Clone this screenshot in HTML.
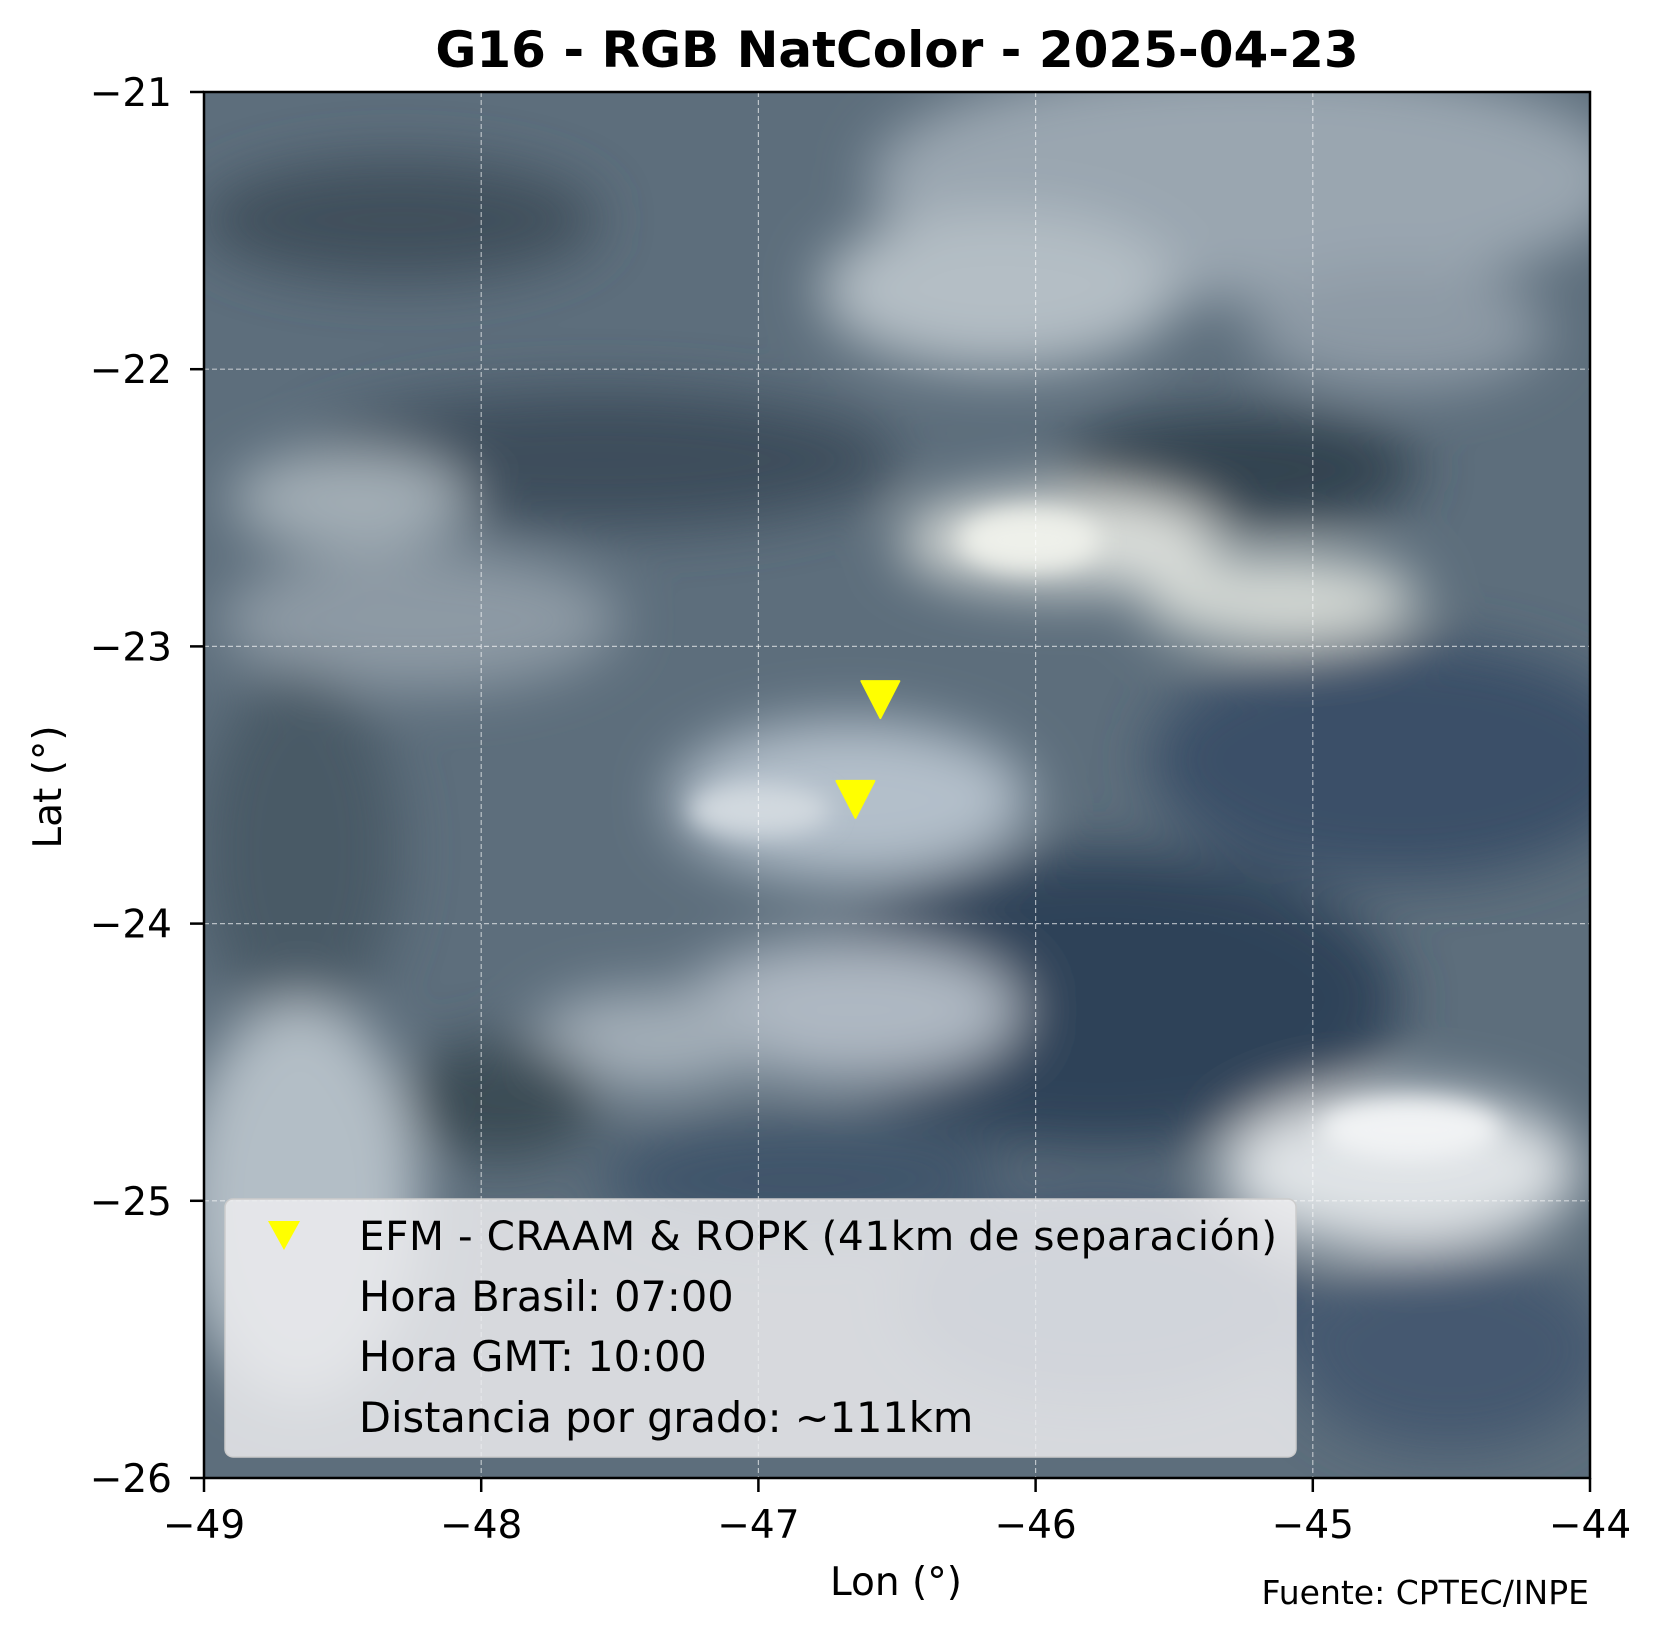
<!DOCTYPE html>
<html><head><meta charset="utf-8"><style>
html,body{margin:0;padding:0;background:#fff;}
svg{display:block;font-family:"DejaVu Sans","Liberation Sans",sans-serif;}
</style></head><body>
<svg id="chart" width="1663" height="1634" viewBox="0 0 1663 1634" xmlns="http://www.w3.org/2000/svg">
<defs>
<filter id="blur" x="-20%" y="-20%" width="140%" height="140%"><feGaussianBlur stdDeviation="28"/></filter>
<filter id="blur2" x="-20%" y="-20%" width="140%" height="140%"><feGaussianBlur stdDeviation="12"/></filter>
<clipPath id="plotclip"><rect x="204" y="92" width="1386" height="1386"/></clipPath>
</defs>
<g id="bg" clip-path="url(#plotclip)">
<rect x="204" y="92" width="1386" height="1386" fill="#5d6e7c"/>
<g filter="url(#blur)">
<ellipse cx="1250" cy="180" rx="380" ry="120" fill="#9aa6b0"/>
<ellipse cx="1000" cy="290" rx="180" ry="80" fill="#b4bec5"/>
<ellipse cx="1400" cy="330" rx="150" ry="60" fill="#8d9aa5"/>
<ellipse cx="400" cy="220" rx="200" ry="60" fill="#3f4f5c"/>
<ellipse cx="600" cy="460" rx="300" ry="70" fill="#3d4e5b"/>
<ellipse cx="1240" cy="470" rx="180" ry="60" fill="#324350"/>
<ellipse cx="1060" cy="540" rx="160" ry="50" fill="#dcdfdb"/>
<ellipse cx="1280" cy="600" rx="140" ry="45" fill="#d6dad6"/>
<ellipse cx="350" cy="500" rx="120" ry="50" fill="#a3aeb6"/>
<ellipse cx="420" cy="620" rx="200" ry="70" fill="#8d9aa4"/>
<ellipse cx="1400" cy="760" rx="250" ry="120" fill="#3a4f68"/>
<ellipse cx="850" cy="800" rx="180" ry="80" fill="#b3bfca"/>
<ellipse cx="300" cy="850" rx="100" ry="180" fill="#4a5a66"/>
<ellipse cx="1100" cy="1000" rx="300" ry="150" fill="#2f4258"/>
<ellipse cx="850" cy="1010" rx="170" ry="70" fill="#aeb8c2"/>
<ellipse cx="650" cy="1040" rx="120" ry="50" fill="#a3aeb8"/>
<ellipse cx="500" cy="1100" rx="100" ry="60" fill="#3a4c55"/>
<ellipse cx="300" cy="1200" rx="120" ry="200" fill="#b3bec6"/>
<ellipse cx="1400" cy="1170" rx="180" ry="80" fill="#dfe3e6"/>
<ellipse cx="1450" cy="1350" rx="160" ry="100" fill="#44596f"/>
<ellipse cx="1100" cy="1300" rx="200" ry="100" fill="#3a506b"/>
<ellipse cx="800" cy="1180" rx="200" ry="60" fill="#40556a"/>
</g>
<g filter="url(#blur2)">
<ellipse cx="1030" cy="540" rx="70" ry="30" fill="#eef0ea"/>
<ellipse cx="1410" cy="1130" rx="90" ry="30" fill="#f1f3f4"/>
<ellipse cx="760" cy="810" rx="70" ry="25" fill="#d2d9df"/>
</g>
</g>
<g id="grid" stroke="#ffffff" stroke-opacity="0.6" stroke-width="1.2" stroke-dasharray="5,3"></g>
<g id="legend">
<rect x="225" y="1199" width="1071" height="258" rx="8" fill="#ececef" fill-opacity="0.85" stroke="#cccccc" stroke-width="1.5"/>
<polygon points="268,1221 300,1221 284,1250" fill="#ffff00"/>
<text x="359" y="1250" font-size="40.5" textLength="918">EFM - CRAAM &amp; ROPK (41km de separación)</text>
<text x="359" y="1311" font-size="41.5">Hora Brasil: 07:00</text>
<text x="359" y="1371" font-size="41.5">Hora GMT: 10:00</text>
<text x="359" y="1432" font-size="41.5">Distancia por grado: ~111km</text>
</g>
<g id="marks"></g>
<rect x="204" y="92" width="1386" height="1386" fill="none" stroke="#000" stroke-width="2.5"/>
<g id="axes"></g>
<text x="897" y="67" font-size="50" font-weight="bold" text-anchor="middle">G16 - RGB NatColor - 2025-04-23</text>
<text x="896" y="1595" font-size="39" text-anchor="middle">Lon (°)</text>
<text transform="translate(61,787) rotate(-90)" font-size="39" text-anchor="middle">Lat (°)</text>
<text x="1589" y="1604" font-size="33" text-anchor="end">Fuente: CPTEC/INPE</text>
</svg>
<script>
const xTicks = [-49, -48, -47, -46, -45, -44];
const yTicks = [-21, -22, -23, -24, -25, -26];
const stationLon = [-46.56, -46.65];
const stationLat = [-23.19, -23.55];
const stationNames = ['CRAAM', 'ROPK'];

const NS = 'http://www.w3.org/2000/svg';
const L = 204, T = 92, W = 1386, H = 1386;
function xs(v){ return L + (v - (-49)) / 5 * W; }
function ys(v){ return T + ((-21) - v) / 5 * H; }
function mk(tag, attrs, parent){ const e = document.createElementNS(NS, tag); for (const k in attrs) e.setAttribute(k, attrs[k]); parent.appendChild(e); return e; }

const grid = document.getElementById('grid');
const axes = document.getElementById('axes');
xTicks.forEach(v => {
  const x = xs(v);
  if (v > -49 && v < -44) {
    const g = mk('line', {x1:x, y1:T, x2:x, y2:T+H}, grid);
    
    
  }
  const t = mk('line', {x1:x, y1:T+H, x2:x, y2:T+H+14, stroke:'#000', 'stroke-width':2.5}, axes);
  
  
  const lb = mk('text', {x:x, y:1538, 'font-size':39, 'text-anchor':'middle'}, axes);
  lb.textContent = '\u2212' + Math.abs(v);
  
  
});
yTicks.forEach(v => {
  const y = ys(v);
  if (v < -21 && v > -26) {
    const g = mk('line', {x1:L, y1:y, x2:L+W, y2:y}, grid);
    
    
  }
  const t = mk('line', {x1:L-14, y1:y, x2:L, y2:y, stroke:'#000', 'stroke-width':2.5}, axes);
  
  
  const lb = mk('text', {x:172, y:y+14, 'font-size':39, 'text-anchor':'end'}, axes);
  lb.textContent = '\u2212' + Math.abs(v);
  
  
});
const marks = document.getElementById('marks');
stationLon.forEach((lon, i) => {
  const cx = xs(lon), cy = ys(stationLat[i]);
  const p = mk('polygon', {points:`${cx-19},${cy-18} ${cx+19},${cy-18} ${cx},${cy+19}`, fill:'#ffff00', 'stroke':'#ffff00', 'stroke-linejoin':'round', 'stroke-width':2}, marks);
  
  
});
</script>
</body></html>
